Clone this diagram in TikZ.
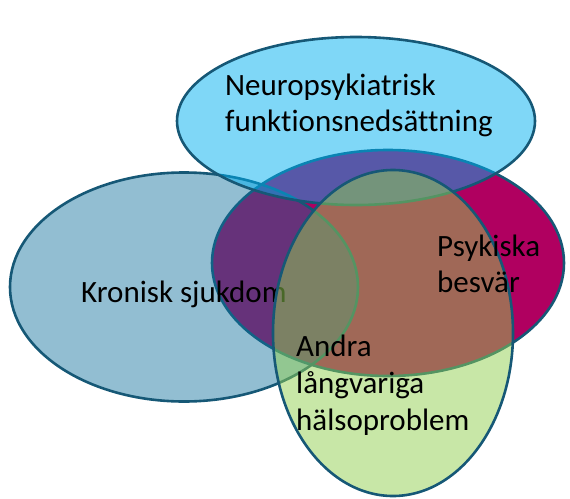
\documentclass[tikz,border=0pt]{standalone}
\usepackage{fontspec}
\setmainfont{Carlito}[Ligatures=NoCommon]
\usetikzlibrary{shapes.geometric}
\definecolor{cMag}{RGB}{176,0,96}
\definecolor{cLeft}{RGB}{13,111,155}
\definecolor{cTop}{RGB}{0,176,240}
\definecolor{cGreen}{RGB}{146,208,80}
\definecolor{cLine}{RGB}{22,88,118}
\tikzset{
  venn/.style={ellipse, draw=cLine, line width=2.6pt, inner sep=0pt, outer sep=0pt},
  lbl/.style={anchor=base west, inner sep=0pt, font=\fontsize{31}{36}\selectfont, text=black}
}
\newcommand{\twolines}[2]{\vtop{\baselineskip=36pt\hbox{#1}\hbox{#2}}}
\newcommand{\threelines}[3]{\vtop{\baselineskip=37pt\hbox{#1}\hbox{#2}\hbox{#3}}}
\begin{document}
\begin{tikzpicture}[x=1pt,y=-1pt]
\useasboundingbox (0,0) rectangle (570,498);
% Psykiska besvär (opaque, bottom)
\node[venn, fill=cMag, minimum width=352pt, minimum height=226pt] (psyk) at (388,263) {};
% Kronisk sjukdom
\node[venn, fill=cLeft, fill opacity=0.45, minimum width=348pt, minimum height=229pt] (kron) at (184,287) {};
\node[lbl] (kronlbl) at (81,302) {Kronisk sjukdom};
% Neuropsykiatrisk
\node[venn, fill=cTop, fill opacity=0.5, minimum width=358pt, minimum height=168pt] (neuro) at (356,121) {};
\node[lbl] (neurolbl) at (225,95) {\twolines{Neuropsykiatrisk}{funktionsnedsättning}};
% Andra långvariga
\node[venn, fill=cGreen, fill opacity=0.5, minimum width=240pt, minimum height=326pt] (andra) at (393,333) {};
\node[lbl] (psyklbl) at (437,256) {\twolines{Psykiska}{besvär}};
\node[lbl] (andralbl) at (296,356) {\threelines{Andra}{långvariga}{hälsoproblem}};
\end{tikzpicture}
\end{document}
